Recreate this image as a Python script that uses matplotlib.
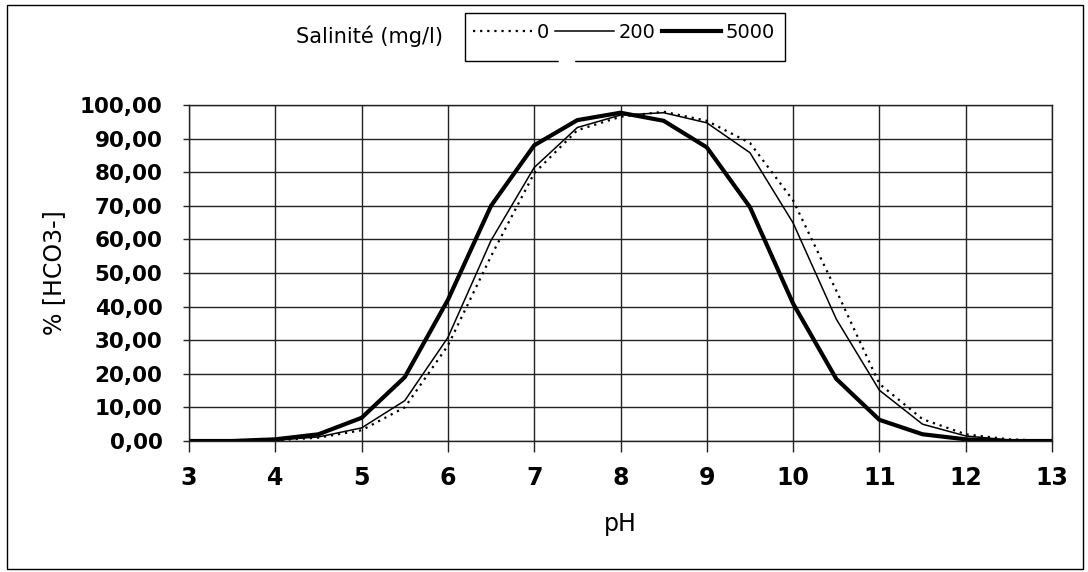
import matplotlib
matplotlib.use("Agg")
import matplotlib.pyplot as plt
from matplotlib.lines import Line2D
from matplotlib.patches import Rectangle

ph = [3, 3.5, 4, 4.5, 5, 5.5, 6, 6.5, 7, 7.5, 8, 8.5, 9, 9.5, 10, 10.5, 11, 11.5, 12, 12.5, 13]
sal_0 = [0, 0, 0.2, 1.0, 3.2, 10.0, 28.4, 55.0, 79.7, 92.5, 96.5, 98.0, 95.3, 88.7, 71.6, 44.8, 17.0, 6.5, 2.0, 0.5, 0]
sal_200 = [0, 0, 0.3, 1.2, 3.9, 12.0, 30.8, 59.7, 81.4, 93.3, 97.0, 97.7, 94.7, 85.8, 64.9, 36.3, 15.1, 5.0, 1.5, 0.3, 0]
sal_5000 = [0, 0, 0.5, 2.0, 6.9, 19.0, 42.0, 70.0, 88.0, 95.5, 97.7, 95.3, 87.4, 69.6, 40.9, 18.5, 6.3, 2.0, 0.5, 0, 0]
legend_labels = ["0", "200", "5000"]
legend_title = "Salinité (mg/l)"
xticks = [3, 4, 5, 6, 7, 8, 9, 10, 11, 12, 13]
yticks = [0, 10, 20, 30, 40, 50, 60, 70, 80, 90, 100]

W, H = 1088, 572
fig = plt.figure(figsize=(W/100, H/100), dpi=100)
ax = fig.add_axes([189/W, 1-441/H, (1052-189)/W, (441-105)/H])

l0, = ax.plot(ph, sal_0, color="black", lw=1.6, linestyle=(0, (1, 2.2)))
l1, = ax.plot(ph, sal_200, color="black", lw=1.1)
l2, = ax.plot(ph, sal_5000, color="black", lw=3.0)

ax.set_xlim(3, 13)
ax.set_ylim(0, 100)
ax.set_xticks(xticks)
ax.set_yticks(yticks)
ax.set_xticklabels([str(v) for v in xticks], fontsize=17, fontweight="bold")
ax.set_yticklabels([f"{v:.2f}".replace(".", ",") for v in yticks], fontsize=15.5, fontweight="bold")
ax.grid(True, color="#222222", lw=1.0)
ax.tick_params(axis="x", length=8, width=1, color="#222222", pad=10)
ax.tick_params(axis="y", length=4, width=1, color="#222222", pad=15)
for s in ax.spines.values():
    s.set_color("#222222")
    s.set_linewidth(1.0)
ax.set_xlabel("pH", fontsize=17, labelpad=16)
ax.set_ylabel("% [HCO3-]", fontsize=17, labelpad=10)

fig.text(370/W, 1-36/H, legend_title, fontsize=15, ha="center", va="center")
leg = fig.legend([l0, l1, l2], legend_labels, ncol=3, loc="center",
                 bbox_to_anchor=(624/W, 1-32/H), fontsize=14,
                 frameon=False,
                 handlelength=3.0, handletextpad=0.25, columnspacing=0.35,
                 borderpad=0.2, borderaxespad=0)

# legend frame
fig.patches.append(Rectangle((465/W, 1-61/H), (785-465)/W, (61-13)/H,
                             transform=fig.transFigure, fill=False,
                             edgecolor="black", lw=1.0))
# small gap in the legend frame bottom edge
fig.lines.append(Line2D([560/W, 573/W], [1-61/H, 1-61/H], transform=fig.transFigure,
                        color="white", lw=2.5, zorder=5))

# outer chart border
fig.patches.append(Rectangle((7/W, 3/H), (1083-7)/W, (567-3)/H,
                             transform=fig.transFigure, fill=False,
                             edgecolor="black", lw=1.0))
fig.savefig("out.png", dpi=100)
